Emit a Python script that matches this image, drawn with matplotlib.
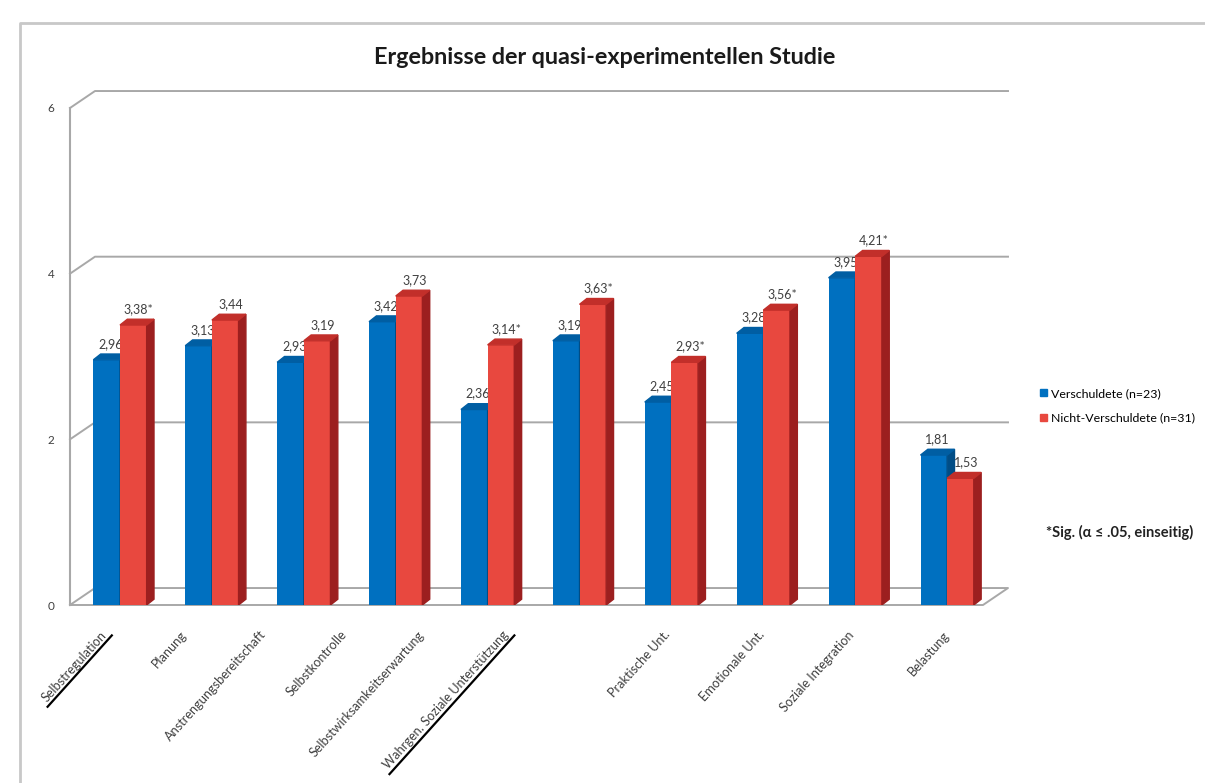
import numpy as np
import matplotlib
matplotlib.use('Agg')
import matplotlib.pyplot as plt
from matplotlib.patches import Polygon, Patch
from matplotlib.lines import Line2D
from matplotlib.transforms import IdentityTransform

# %% data
categories = ["Selbstregulation", "Planung", "Anstrengungsbereitschaft",
              "Selbstkontrolle", "Selbstwirksamkeitserwartung",
              "Wahrgen. Soziale Unterstützung", "Praktische Unt.",
              "Emotionale Unt.", "Soziale Integration", "Belastung"]
verschuldete = [2.96, 3.13, 2.93, 3.42, 2.36, 3.19, 2.45, 3.28, 3.95, 1.81]
nicht_verschuldete = [3.38, 3.44, 3.19, 3.73, 3.14, 3.63, 2.93, 3.56, 4.21, 1.53]
signifikant = [True, False, False, False, True, True, True, True, True, False]
underlined = [0, 5]
y_ticks = [0, 2, 4, 6]

# %% layout / style
W, H = 1205, 783
plt.rcParams['font.family'] = ['Lato', 'DejaVu Sans']
blue_front, blue_side, blue_top = '#0070c0', '#004d86', '#005ea3'
red_front, red_side, red_top = '#e8483f', '#9c1f1f', '#c22f2a'
grid_c = '#a8a8a8'
txt_c = '#404040'
cat_fs = 9.2
rot_deg = 48

label_shift = [-0.22, -0.35, -0.48, -0.61, -0.76, -0.84, -0.09, -0.06, -0.08, -0.05]

fig = plt.figure(figsize=(W / 100, H / 100), dpi=100)
ax = fig.add_axes([70 / W, 1 - 605 / H, (983 - 70) / W, (605 - 108) / H])
x0, x1 = -0.544, 9.39
ax.set_xlim(x0, x1)
ax.set_ylim(0, 6)
for s in ['top', 'right', 'bottom']:
    ax.spines[s].set_visible(False)
ax.spines['left'].set_color(grid_c)
ax.spines['left'].set_linewidth(1.5)
ax.set_yticks(y_ticks)
ax.tick_params(axis='y', length=0, pad=11, labelsize=8.5, labelcolor=txt_c)

# back wall grid + floor (fake 3d)
ddx, ddy = 0.272, 0.205
for g in y_ticks[1:]:
    ax.plot([x0, x0 + ddx, x1 + ddx], [g, g + ddy, g + ddy], color=grid_c, lw=1.4,
            clip_on=False, zorder=1)
ax.plot([x0, x1, x1 + ddx, x0 + ddx, x0], [0, 0, ddy, ddy, 0], color=grid_c, lw=1.4,
        clip_on=False, zorder=1)

# bars
x = np.arange(len(categories))
bw = 0.29
sdx, sdy = 0.08, 0.07


def bar3d(left, vals, front, side, top, z):
    ax.bar(left, vals, width=bw, align='edge', color=front, zorder=z)
    for xl, v in zip(left, vals):
        xr = xl + bw
        ax.add_patch(Polygon([(xr, 0), (xr + sdx, sdy), (xr + sdx, v + sdy), (xr, v)],
                             closed=True, color=side, zorder=z + 0.2))
        ax.add_patch(Polygon([(xl, v), (xr, v), (xr + sdx, v + sdy), (xl + sdx, v + sdy)],
                             closed=True, color=top, zorder=z + 0.2))


bar3d(x - bw, verschuldete, blue_front, blue_side, blue_top, 3)
bar3d(x, nicht_verschuldete, red_front, red_side, red_top, 4)

for i in range(len(categories)):
    b = verschuldete[i]
    r = nicht_verschuldete[i]
    ax.text(x[i] - bw / 2 + sdx / 2, b + 0.12, f"{b:.2f}".replace('.', ','),
            ha='center', va='bottom', fontsize=9, color=txt_c, zorder=3.5)
    lab = f"{r:.2f}".replace('.', ',') + ('*' if signifikant[i] else '')
    ax.text(x[i] + bw / 2 + sdx / 2 + 0.02, r + 0.12, lab,
            ha='center', va='bottom', fontsize=9, color=txt_c, zorder=6)

# category labels
ax.set_xticks(x + np.array(label_shift))
ax.set_xticklabels(categories, rotation=rot_deg, ha='right', rotation_mode='anchor',
                   fontsize=cat_fs, color=txt_c)
ax.tick_params(axis='x', length=0, pad=17)

# legend + note
handles = [Patch(color=blue_front, label='Verschuldete (n=23)'),
           Patch(color=red_front, label='Nicht-Verschuldete (n=31)')]
fig.legend(handles=handles, loc='upper left', bbox_to_anchor=(1040 / W, 1 - 388 / H),
           frameon=False, fontsize=8.9, handlelength=0.55, handleheight=0.55,
           handletextpad=0.3, labelspacing=1.1, borderaxespad=0, borderpad=0)
fig.text(1046 / W, 1 - 532 / H, '*Sig. (α ≤ .05, einseitig)', fontsize=10.5,
         fontweight='bold', color='#222222', va='center')

fig.text(605 / W, 1 - 57 / H, 'Ergebnisse der quasi-experimentellen Studie',
         ha='center', va='center', fontsize=16.8, fontweight='bold', color='#1a1a1a')

# outer frame
fig.add_artist(Line2D([20 / W, 20 / W, 1], [0, 1 - 23 / H, 1 - 23 / H],
                      transform=fig.transFigure, color='#c8c8c8', lw=2))

# underline selected labels (derived from the rotated bbox)
fig.canvas.draw()
rend = fig.canvas.get_renderer()
th = np.deg2rad(rot_deg)
u = np.array([np.cos(th), np.sin(th)])      # text direction
n = np.array([np.sin(th), -np.cos(th)])     # "down" in text frame
ticklabels = ax.get_xticklabels()
for idx in underlined:
    t = ticklabels[idx]
    tmp = fig.text(0, 0, t.get_text(), fontsize=cat_fs)
    ub = tmp.get_window_extent(rend)
    tmp.remove()
    rb = t.get_window_extent(rend)
    w, h = ub.width, ub.height
    # top-right anchor of the rotated text sits at (x1 - h*sin, y1)
    anchor = np.array([rb.x1 - h * np.sin(th), rb.y1])
    br = anchor + n * (h + 1.5)
    start = br + u * 3
    end = br - u * (w + 3)
    fig.add_artist(Line2D([start[0], end[0]], [start[1], end[1]],
                          transform=IdentityTransform(), color='black', lw=1.6))

fig.savefig('out.png', dpi=100)
